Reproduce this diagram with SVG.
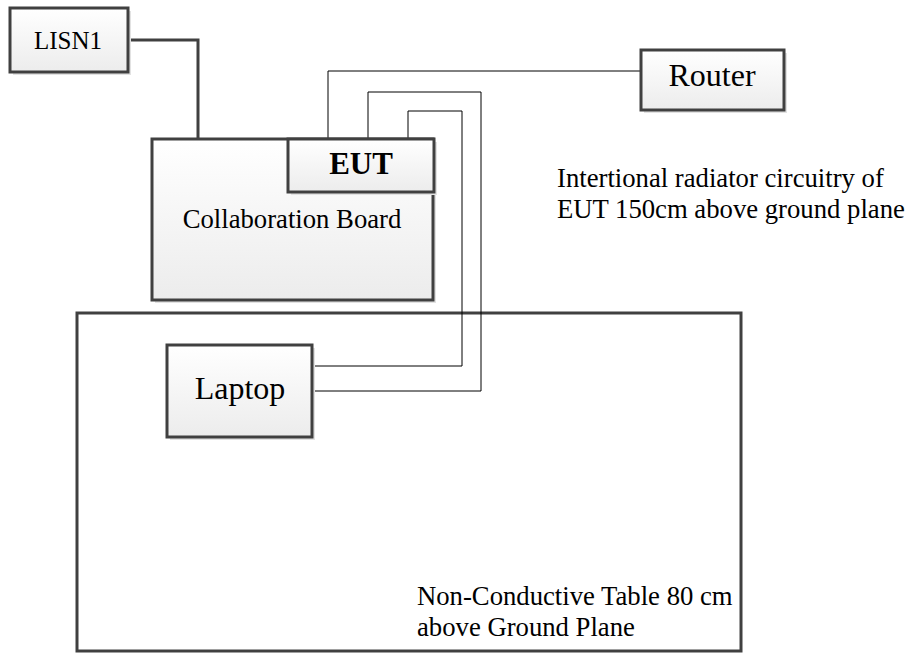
<svg xmlns="http://www.w3.org/2000/svg" width="910" height="654" viewBox="0 0 910 654">
<defs>
<linearGradient id="g" x1="0" y1="0" x2="0" y2="1">
<stop offset="0" stop-color="#ffffff"/>
<stop offset="1" stop-color="#ececec"/>
</linearGradient>
</defs>
<style>
.box{fill:url(#g);stroke:#404040;stroke-width:3}
.sh{fill:#e2e2e2}
.t{font-family:"Liberation Serif","Times New Roman",serif;fill:#000}
.m{font-size:26.7px}
.w{fill:none;stroke:#000;stroke-width:1}
.wt{fill:none;stroke:#404040;stroke-width:3}
</style>
<rect width="910" height="654" fill="#fff"/>
<g id="table">
<rect x="77" y="313" width="664" height="338" fill="none" stroke="#404040" stroke-width="3"/>
<text class="t m" x="417" y="605">Non-Conductive Table 80 cm</text>
<text class="t m" x="417" y="636">above Ground Plane</text>
</g>
<g id="note">
<text class="t m" x="557" y="187">Intertional radiator circuitry of</text>
<text class="t m" x="557" y="218">EUT 150cm above ground plane</text>
</g>
<g id="connectors">
<polyline class="wt" points="128,40 198,40 198,139"/>
<polyline class="w" points="328,139 328,71 641,71"/>
<polyline class="w" points="368,139 368,92 481,92 481,391 312,391"/>
<polyline class="w" points="408,139 408,111 462,111 462,366 312,366"/>
</g>
<g id="lisn1">
<rect class="sh" x="13" y="11" width="118" height="64"/>
<rect class="box" x="10" y="8" width="118" height="64"/>
<text class="t" x="68" y="49" font-size="25" text-anchor="middle">LISN1</text>
</g>
<g id="router">
<rect class="sh" x="644" y="53" width="143" height="60"/>
<rect class="box" x="641" y="50" width="143" height="60"/>
<text class="t" x="712" y="86" font-size="32" text-anchor="middle">Router</text>
</g>
<g id="collab">
<rect class="sh" x="155" y="142" width="281" height="161"/>
<rect class="box" x="152" y="139" width="281" height="161"/>
<text class="t m" x="292" y="228" text-anchor="middle">Collaboration Board</text>
</g>
<g id="eut">
<rect class="sh" x="291" y="142" width="146" height="53"/>
<rect class="box" x="288" y="139" width="146" height="53"/>
<text class="t" x="361" y="174" font-size="31" font-weight="bold" text-anchor="middle">EUT</text>
</g>
<g id="laptop">
<rect class="sh" x="170" y="348" width="145" height="92"/>
<rect class="box" x="167" y="345" width="145" height="92"/>
<text class="t" x="240" y="399" font-size="32" text-anchor="middle">Laptop</text>
</g>
</svg>
